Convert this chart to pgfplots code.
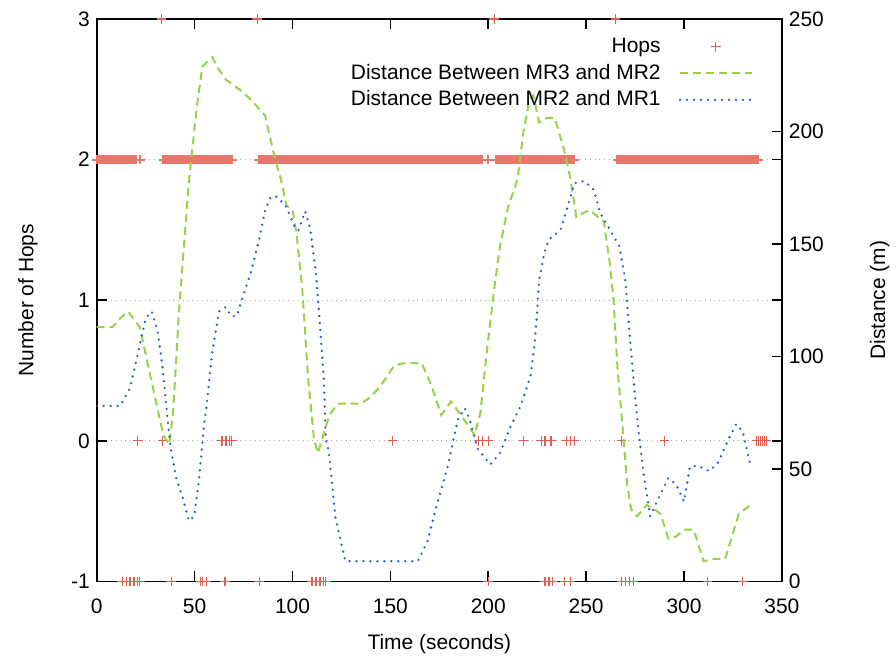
\documentclass[border=0pt]{standalone}
\usepackage{fontspec}
\setmainfont{Liberation Sans}
\usepackage{pgfplots}
\pgfplotsset{compat=1.18}
\definecolor{hopred}{RGB}{226,92,80}
\definecolor{bandred}{RGB}{232,118,106}
\definecolor{lgreen}{RGB}{150,210,72}
\definecolor{dblue}{RGB}{40,92,212}
\pgfplotsset{
  common/.style={
    scale only axis, width=343.5pt, height=282pt,
    xmin=0, xmax=350,
    tick align=inside, major tick length=5pt,
    axis line style={line width=0.8pt, black},
    every tick/.style={black, line width=0.8pt},
    /pgf/number format/assume math mode=true,
    tick label style={font=\fontsize{10.5}{12.6}\selectfont},
    label style={font=\fontsize{10.5}{12.6}\selectfont},
  },
  hopstyle/.style={only marks, mark=+, mark size=2.4pt, color=hopred,
    mark options={solid, line width=0.6pt}},
}
\begin{document}
\begin{tikzpicture}
\begin{axis}[common,
  ymin=-1, ymax=3,
  xtick={0,50,...,350}, ytick={-1,0,1,2,3},
  xticklabel style={yshift=-5pt},
  ymajorgrids, grid style={dotted, gray!70, line width=0.5pt},
  xlabel={Time (seconds)}, ylabel={Number of Hops},
  xlabel style={at={(axis description cs:0.5,-0.111)}, anchor=center},
  ylabel style={at={(axis description cs:-0.1004,0.5)}, anchor=center},
  clip=false,
]
% hops = 2 (dense, one sample per second)
\addplot[hopstyle, color=bandred, mark options={solid, line width=1pt}] table {
x y
0 2
1 2
2 2
3 2
4 2
5 2
6 2
7 2
8 2
9 2
10 2
11 2
12 2
13 2
14 2
15 2
16 2
17 2
18 2
19 2
20 2
22 2
34 2
35 2
36 2
37 2
38 2
39 2
40 2
41 2
42 2
43 2
44 2
45 2
46 2
47 2
48 2
49 2
50 2
51 2
52 2
53 2
54 2
55 2
56 2
57 2
58 2
59 2
60 2
61 2
62 2
63 2
64 2
65 2
66 2
67 2
68 2
69 2
83 2
84 2
85 2
86 2
87 2
88 2
89 2
90 2
91 2
92 2
93 2
94 2
95 2
96 2
97 2
98 2
99 2
100 2
101 2
102 2
103 2
104 2
105 2
106 2
107 2
108 2
109 2
110 2
111 2
112 2
113 2
114 2
115 2
116 2
117 2
118 2
119 2
120 2
121 2
122 2
123 2
124 2
125 2
126 2
127 2
128 2
129 2
130 2
131 2
132 2
133 2
134 2
135 2
136 2
137 2
138 2
139 2
140 2
141 2
142 2
143 2
144 2
145 2
146 2
147 2
148 2
149 2
150 2
151 2
152 2
153 2
154 2
155 2
156 2
157 2
158 2
159 2
160 2
161 2
162 2
163 2
164 2
165 2
166 2
167 2
168 2
169 2
170 2
171 2
172 2
173 2
174 2
175 2
176 2
177 2
178 2
179 2
180 2
181 2
182 2
183 2
184 2
185 2
186 2
187 2
188 2
189 2
190 2
191 2
192 2
193 2
194 2
195 2
196 2
197 2
200 2
204 2
205 2
206 2
207 2
208 2
209 2
210 2
211 2
212 2
213 2
214 2
215 2
216 2
217 2
218 2
219 2
220 2
221 2
222 2
223 2
224 2
225 2
226 2
227 2
228 2
229 2
230 2
231 2
232 2
233 2
234 2
235 2
236 2
237 2
238 2
239 2
240 2
241 2
242 2
243 2
244 2
266 2
267 2
268 2
269 2
270 2
271 2
272 2
273 2
274 2
275 2
276 2
277 2
278 2
279 2
280 2
281 2
282 2
283 2
284 2
285 2
286 2
287 2
288 2
289 2
290 2
291 2
292 2
293 2
294 2
295 2
296 2
297 2
298 2
299 2
300 2
301 2
302 2
303 2
304 2
305 2
306 2
307 2
308 2
309 2
310 2
311 2
312 2
313 2
314 2
315 2
316 2
317 2
318 2
319 2
320 2
321 2
322 2
323 2
324 2
325 2
326 2
327 2
328 2
329 2
330 2
331 2
332 2
333 2
334 2
335 2
336 2
337 2
338 2
};
% hops = 0, -1, 3
\addplot[hopstyle] table {
x y
21 0
33.5 0
64 0
66 0
68 0
69 0
151 0
195 0
197 0
200 0
218 0
227 0
229 0
232 0
240 0
242 0
244 0
268 0
290 0
337 0
338 0
339 0
340 0
341 0
342 0
13 -1
15 -1
17 -1
19 -1
21 -1
22 -1
38 -1
53 -1
54 -1
56 -1
65.5 -1
83 -1
110 -1
112 -1
114 -1
116 -1
117 -1
200 -1
229 -1
231 -1
233 -1
239 -1
242 -1
268 -1
270 -1
272 -1
274 -1
312 -1
330 -1
33 3
82 3
203 3
265 3
};
\end{axis}
\begin{axis}[common,
  ymin=0, ymax=250,
  axis y line*=right, axis x line=none,
  ytick={0,50,...,250},
  ylabel={Distance (m)},
  ylabel style={at={(axis description cs:1.1426,0.5)}, anchor=center},
  legend plot pos=right, legend cell align=right,
  legend image code/.code={\path (0cm,0cm); \draw[mark repeat=2,mark phase=2,#1] plot coordinates {(0.25cm,0cm) (0.88cm,0cm) (1.51cm,0cm)};},
  legend style={draw=none, fill=none, anchor=north east, at={(rel axis cs:0.967,0.981)},
    font=\fontsize{10.5}{12.6}\selectfont, row sep=0.3pt},
]
\addlegendimage{hopstyle, mark options={solid, line width=0.5pt}}
\addlegendentry{Hops}
\addplot[lgreen, line width=1pt, dash pattern=on 4pt off 2.5pt] coordinates {
(0,113)(8,113)(12,117)(16,120)(22,113)(26,97)(30,81)(34,65)(37,61)(39,75)(42,120)(47,177)(51,210)(54,229)(59,233)(62,228)
(66,223)(74,218)(80,213)(86,207)(91,188)(94,179)(97,167)(100,165)(102,155)(105,130)(108,90)(111,63)(113,57)(116,66)(119,74)
(123,79)(135,79)(140,82)(145,87)(152,96)(157,97)(166,97)(171,87)(176,74)(181,80)(186,74)(190,69)(193,65)(196,75)(199,100)
(203,130)(206,149)(210,166)(215,179)(218,200)(221,214)(223,216)(226,204)(230,206)(234,206)(239,191)(242,179)(245,162)(249,164)
(252,165)(256,162)(259,160)(262,142)(264,125)(266,95)(268,75)(271,43)(273,32)(276,29)(281,34)(285,32)(288,30)(292,19)(296,20)
(300,23)(305,23)(310,9)(315,10)(321,10)(328,30)(334,34)
};
\addlegendentry{Distance Between MR3 and MR2}
\addplot[dblue, line width=1.3pt, line cap=round, dash pattern=on 0pt off 3.5pt] coordinates {
(0,78)(12,78)(17,86)(22,105)(25,117)(28,120)(31,112)(33.5,96)(37,65)(38,58)(40.6,46)(44,37)(47,27)(49.8,29)(52.3,46)(55,71)
(56,77)(59,102)(62.5,120)(66,122)(68.6,118)(71.6,118)(74,125)(78.6,137)(83,152)(86,165)(89,171)(92,171)(96.5,167)(101.5,157)
(103,156)(106.5,164.5)(109,157)(112,137)(113.5,120)(116,90)(117,63)(118.5,58)(122,28)(127,9)(164,9)(169,18)(174,35)(179,50)
(184.5,72)(188,77)(190.5,72)(192,67)(194.6,59)(201,52)(206,57)(211,68)(216.5,78)(221.5,91)(223.6,105)(225,120)(226,134)
(228.6,146)(231,152)(236.8,156)(240,165)(244,177)(249,178)(254,174)(257,164)(262,156.5)(267,149)(270,134)(272,112)(275,82)
(277,65)(279.5,47)(282.7,29)(287,37)(292,46)(296,43)(300,35.5)(303,51)(307,51.4)(313,49)(317.5,53)(322.6,63)(326.7,70)
(330,66.5)(334,51.4)
};
\addlegendentry{Distance Between MR2 and MR1}
\end{axis}
\path (current axis.south west) ++(-48.5pt,-37.5pt) rectangle ++(448pt,329pt);
\end{tikzpicture}
\end{document}
